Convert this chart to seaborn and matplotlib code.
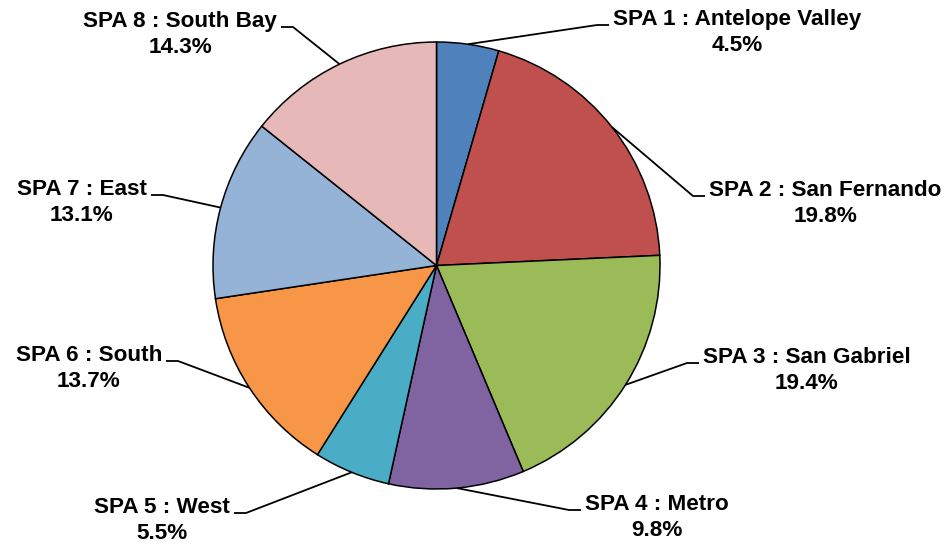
import numpy as np
import seaborn as sns
import matplotlib.pyplot as plt

# data
areas = ['SPA 1 : Antelope Valley', 'SPA 2 : San Fernando', 'SPA 3 : San Gabriel',
         'SPA 4 : Metro', 'SPA 5 : West', 'SPA 6 : South', 'SPA 7 : East',
         'SPA 8 : South Bay']
shares = [4.5, 19.8, 19.4, 9.8, 5.5, 13.7, 13.1, 14.3]
share_labels = ['4.5%', '19.8%', '19.4%', '9.8%', '5.5%', '13.7%', '13.1%', '14.3%']
colors = ['#4F81BD', '#C0504D', '#9BBB59', '#8064A2', '#4BACC6', '#F79646',
          '#95B3D7', '#E6B9B8']

# label layout, in pixels from top-left: side of text block next to leader, first-line centre
W, H = 949, 544
label_anchor = [(613, 18), (709, 189), (703, 356), (585, 503),
                (230, 506), (162, 354), (147, 188), (277, 20)]
label_side = ['left', 'left', 'left', 'left', 'right', 'right', 'right', 'right']

sns.set_style('white')
plt.rcParams['font.family'] = ['Liberation Sans', 'DejaVu Sans']

fig = plt.figure(figsize=(W / 100, H / 100), dpi=100)
ax = fig.add_axes([0, 0, 1, 1])

cx, cy, r = 436.5, H - 265.5, 223.5
wedges, _ = ax.pie(shares, colors=sns.color_palette(colors), startangle=90,
                   counterclock=False, center=(cx, cy), radius=r,
                   wedgeprops=dict(edgecolor='black', linewidth=1.1))
ax.set_xlim(0, W)
ax.set_ylim(0, H)
ax.set_aspect('equal')
ax.axis('off')

for w, name, pct, (lx, ly), side in zip(wedges, areas, share_labels, label_anchor, label_side):
    mid = np.deg2rad((w.theta1 + w.theta2) / 2)
    x0, y0 = cx + r * np.cos(mid), cy + r * np.sin(mid)
    yl = H - (ly + 7)
    sgn = 1 if side == 'left' else -1
    ax.plot([x0, lx - sgn * 16, lx - sgn * 4], [y0, yl, yl], color='black', lw=1.3,
            solid_capstyle='butt')
    ax.text(lx, H - ly + 9, name + '\n' + pct, ha=side, va='top', color='black',
            multialignment='center', fontsize=16.2, fontweight='bold',
            linespacing=1.32)

plt.savefig('out.png', dpi=100)
